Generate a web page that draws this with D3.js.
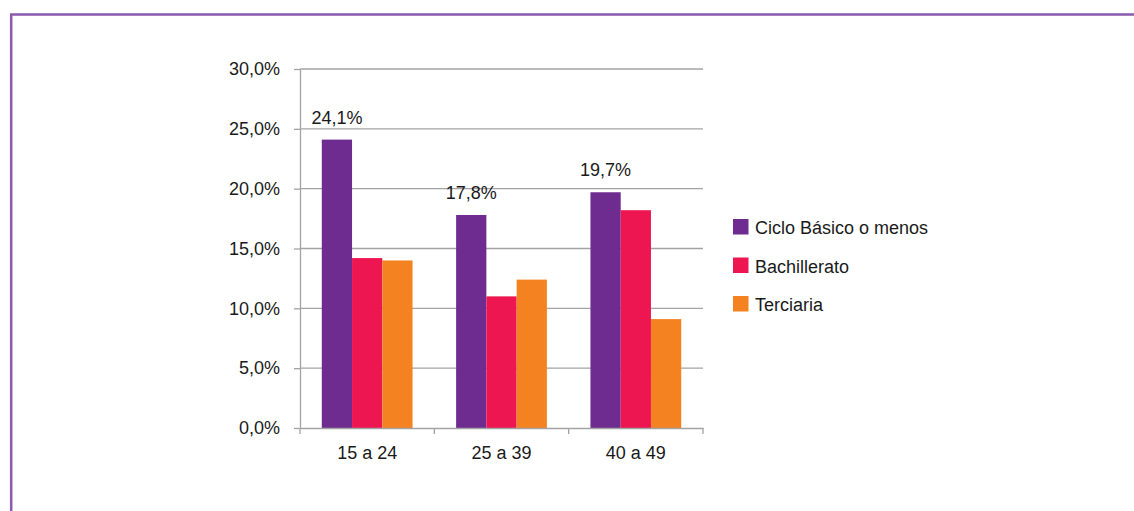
<!DOCTYPE html>
<html>
<head>
<meta charset="utf-8">
<script src="https://cdn.jsdelivr.net/npm/d3@7"></script>
<style>
  html, body { margin: 0; padding: 0; background: #fff; }
  svg { display: block; }
  text { font-family: "Liberation Sans", Arial, sans-serif; fill: #1a1a1a; }
</style>
</head>
<body>
<svg id="chart" width="1134" height="511"></svg>
<script>
// Age groups and education levels
const categories = ["15 a 24", "25 a 39", "40 a 49"];
const seriesNames = ["Ciclo Básico o menos", "Bachillerato", "Terciaria"];
const cicloBasico = [24.1, 17.8, 19.7];
const bachillerato = [14.2, 11.0, 18.2];
const terciaria = [14.0, 12.4, 9.1];
const yTicks = [0, 5, 10, 15, 20, 25, 30];
const seriesColors = ["#6e2c90", "#ee1651", "#f48221"];
// only the first series carries value labels
const labelledSeries = 0;

const series = [cicloBasico, bachillerato, terciaria];

const svg = d3.select("#chart");

// frame
svg.append("path")
  .attr("d", "M11.2,511 V14.5 H1134")
  .attr("fill", "none")
  .attr("stroke", "#8a5aac")
  .attr("stroke-width", 2.5);

const x0 = 300, x1 = 703, yTop = 69, yBottom = 428;

const x = d3.scaleBand().domain(categories).range([x0, x1]).paddingInner(0).paddingOuter(0);
const inner = d3.scaleBand().domain(d3.range(series.length))
  .range([0, x.bandwidth()]).paddingInner(0).paddingOuter(0.72);
const y = d3.scaleLinear().domain([0, 30]).range([yBottom, yTop]);

const fmt = v => d3.format(".1f")(v).replace(".", ",") + "%";

// gridlines
svg.append("g")
  .selectAll("line")
  .data(yTicks.filter(t => t > 0))
  .join("line")
  .attr("x1", x0).attr("x2", x1)
  .attr("y1", d => y(d)).attr("y2", d => y(d))
  .attr("stroke", "#a3a3a3").attr("stroke-width", 1.3);

// y axis
const yAxis = svg.append("g")
  .attr("transform", `translate(${x0},0)`)
  .call(d3.axisLeft(y).tickValues(yTicks).tickFormat(fmt).tickSizeInner(6).tickSizeOuter(0).tickPadding(14));
yAxis.select(".domain").attr("stroke", "#a3a3a3").attr("stroke-width", 1.3);
yAxis.selectAll(".tick line").attr("stroke", "#a3a3a3").attr("stroke-width", 1.3);
yAxis.selectAll(".tick text").attr("font-size", 18).attr("font-family", "Liberation Sans, Arial, sans-serif").attr("fill", "#1a1a1a");

// bars
const groups = svg.append("g")
  .selectAll("g")
  .data(categories)
  .join("g")
  .attr("transform", d => `translate(${x(d)},0)`);

groups.selectAll("rect")
  .data((c, ci) => series.map((s, si) => ({ si, v: s[ci] })))
  .join("rect")
  .attr("x", d => inner(d.si))
  .attr("width", inner.bandwidth())
  .attr("y", d => y(d.v))
  .attr("height", d => y(0) - y(d.v))
  .attr("fill", d => seriesColors[d.si]);

// value labels
groups.append("text")
  .datum((c, ci) => cicloBasico[ci])
  .attr("x", inner(labelledSeries) + inner.bandwidth() / 2)
  .attr("y", d => y(d) - 16)
  .attr("text-anchor", "middle")
  .attr("font-size", 18)
  .text(d => fmt(d));

// x axis
const xAxis = svg.append("g")
  .attr("transform", `translate(0,${yBottom})`)
  .call(d3.axisBottom(x).tickSizeInner(0).tickSizeOuter(0).tickPadding(18));
xAxis.select(".domain").attr("stroke", "#a3a3a3").attr("stroke-width", 1.3);
xAxis.selectAll(".tick text").attr("font-size", 18).attr("font-family", "Liberation Sans, Arial, sans-serif").attr("fill", "#1a1a1a");
// category separators
svg.append("g")
  .selectAll("line")
  .data(categories.map(c => x(c)).concat([x1]))
  .join("line")
  .attr("x1", d => d).attr("x2", d => d)
  .attr("y1", yBottom).attr("y2", yBottom + 6)
  .attr("stroke", "#a3a3a3").attr("stroke-width", 1.3);

// legend
const legend = svg.append("g").attr("transform", "translate(733,219)");
const items = legend.selectAll("g")
  .data(seriesNames)
  .join("g")
  .attr("transform", (d, i) => `translate(0,${i * 38.5})`);
items.append("rect")
  .attr("width", 15.5).attr("height", 15.5)
  .attr("fill", (d, i) => seriesColors[i]);
items.append("text")
  .attr("x", 22).attr("y", 15)
  .attr("font-size", 18)
  .text(d => d);
</script>
</body>
</html>
